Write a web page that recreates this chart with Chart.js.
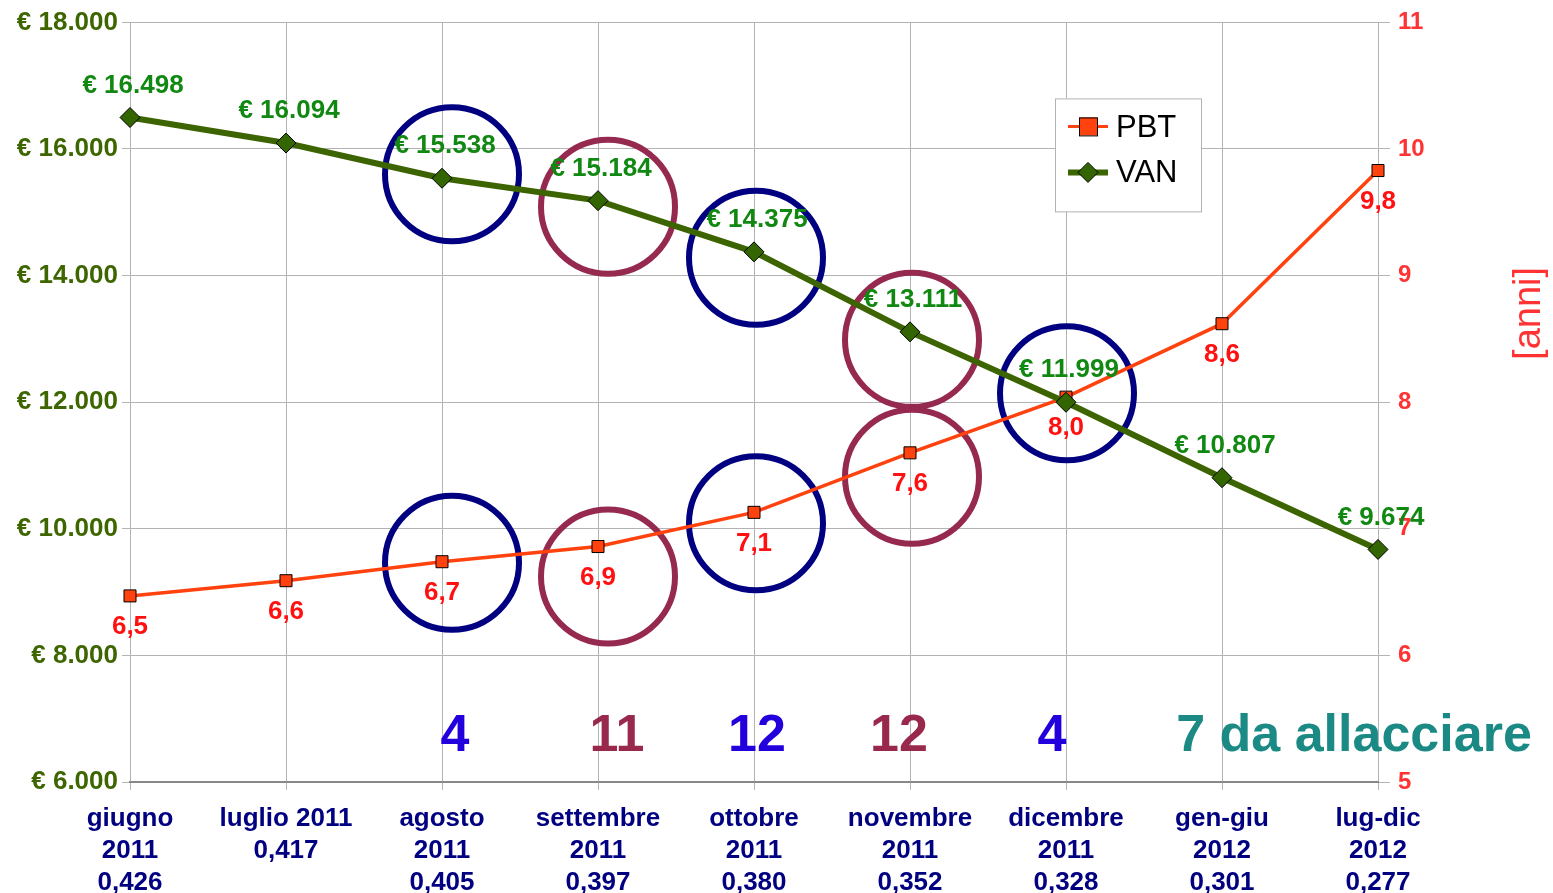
<!DOCTYPE html>
<html>
<head>
<meta charset="utf-8">
<script src="https://cdn.jsdelivr.net/npm/chart.js@4.4.1/dist/chart.umd.min.js"></script>
<style>
  html, body { margin: 0; padding: 0; background: #fff; }
  #wrap { width: 1553px; height: 893px; }
</style>
</head>
<body>
<div id="wrap"><canvas id="grafico"></canvas></div>
<script>
// periodi sull'asse x (una riga per elemento)
var periodi = [
  ["giugno", "2011", "0,426"],
  ["luglio 2011", "0,417"],
  ["agosto", "2011", "0,405"],
  ["settembre", "2011", "0,397"],
  ["ottobre", "2011", "0,380"],
  ["novembre", "2011", "0,352"],
  ["dicembre", "2011", "0,328"],
  ["gen-giu", "2012", "0,301"],
  ["lug-dic", "2012", "0,277"]
];

// PBT in anni (asse destro)
var pbtValori = [6.47, 6.59, 6.74, 6.86, 7.13, 7.6, 8.04, 8.62, 9.83];

// VAN in euro (asse sinistro)
var vanValori = [16498, 16094, 15538, 15184, 14375, 13111, 11999, 10807, 9674];

// allacciamenti per periodo
var allacciamenti = [
  { idx: 2, testo: "4" },
  { idx: 3, testo: "11" },
  { idx: 4, testo: "12" },
  { idx: 5, testo: "12" },
  { idx: 6, testo: "4" },
  { idx: 8, testo: "7 da allacciare" }
];

var FONT = "'Liberation Sans', Arial, sans-serif";

function migliaia(v) {
  return String(v).replace(/\B(?=(\d{3})+(?!\d))/g, ".");
}

// stile delle scritte grandi in basso (stesso ordine di allacciamenti)
var stileAllacci = [
  { colore: "#2200dd", dx: 13 },
  { colore: "#99284d", dx: 19 },
  { colore: "#2200dd", dx: 3 },
  { colore: "#99284d", dx: -11 },
  { colore: "#2200dd", dx: -14 },
  { colore: "#1b8a85", dx: -24 }
];

// cerchi attorno ai punti: serie, indice, colore, spostamento
var cerchi = [
  { serie: 1, idx: 2, colore: "#000080", dx: 10, dy: -4 },
  { serie: 1, idx: 3, colore: "#96294f", dx: 10, dy: 6 },
  { serie: 1, idx: 4, colore: "#000080", dx: 2, dy: 6 },
  { serie: 1, idx: 5, colore: "#96294f", dx: 2, dy: 8 },
  { serie: 1, idx: 6, colore: "#000080", dx: 1, dy: -9 },
  { serie: 0, idx: 2, colore: "#000080", dx: 10, dy: 1 },
  { serie: 0, idx: 3, colore: "#96294f", dx: 10, dy: 30 },
  { serie: 0, idx: 4, colore: "#000080", dx: 2, dy: 11 },
  { serie: 0, idx: 5, colore: "#96294f", dx: 2, dy: 24 }
];

var decorazioni = {
  id: "decorazioni",
  beforeDatasetsDraw: function (chart) {
    var ctx = chart.ctx;
    ctx.save();
    ctx.lineWidth = 6;
    cerchi.forEach(function (c) {
      var p = chart.getDatasetMeta(c.serie).data[c.idx];
      ctx.strokeStyle = c.colore;
      ctx.beginPath();
      ctx.arc(p.x + c.dx, p.y + c.dy, 67, 0, Math.PI * 2);
      ctx.stroke();
    });
    ctx.restore();
  },
  afterDatasetsDraw: function (chart) {
    var ctx = chart.ctx;
    var area = chart.chartArea;
    var xScale = chart.scales.x;
    ctx.save();
    ctx.textAlign = "center";
    ctx.textBaseline = "middle";

    // etichette VAN
    ctx.font = "bold 26px " + FONT;
    ctx.fillStyle = "#118811";
    chart.getDatasetMeta(1).data.forEach(function (p, i) {
      ctx.fillText("€ " + migliaia(vanValori[i]), p.x + 3, p.y - 32);
    });

    // etichette PBT
    ctx.fillStyle = "#ff1111";
    chart.getDatasetMeta(0).data.forEach(function (p, i) {
      ctx.fillText(pbtValori[i].toFixed(1).replace(".", ","), p.x, p.y + 31);
    });

    // numeri allacciamenti
    ctx.font = "bold 52px " + FONT;
    ctx.textBaseline = "alphabetic";
    allacciamenti.forEach(function (a, i) {
      var s = stileAllacci[i];
      ctx.fillStyle = s.colore;
      ctx.fillText(a.testo, xScale.getPixelForValue(a.idx) + s.dx, area.bottom - 31);
    });

    // legenda
    var lx = area.left + 925, ly = area.top + 76;
    ctx.strokeStyle = "#b3b3b3";
    ctx.lineWidth = 1;
    ctx.fillStyle = "#fff";
    ctx.fillRect(lx, ly, 146, 113);
    ctx.strokeRect(lx + 0.5, ly + 0.5, 146, 113);
    ctx.textAlign = "left";
    ctx.textBaseline = "middle";
    ctx.font = "31px " + FONT;

    ctx.strokeStyle = "#ff420e";
    ctx.lineWidth = 3;
    ctx.beginPath();
    ctx.moveTo(lx + 13, ly + 28);
    ctx.lineTo(lx + 53, ly + 28);
    ctx.stroke();
    ctx.fillStyle = "#ff420e";
    ctx.fillRect(lx + 24, ly + 19, 18, 18);
    ctx.strokeStyle = "#000";
    ctx.lineWidth = 1;
    ctx.strokeRect(lx + 24.5, ly + 19.5, 18, 18);
    ctx.fillStyle = "#000";
    ctx.fillText("PBT", lx + 61, ly + 30);

    ctx.strokeStyle = "#3c6400";
    ctx.lineWidth = 6;
    ctx.beginPath();
    ctx.moveTo(lx + 13, ly + 74);
    ctx.lineTo(lx + 53, ly + 74);
    ctx.stroke();
    ctx.fillStyle = "#336600";
    ctx.strokeStyle = "#000";
    ctx.lineWidth = 1;
    ctx.beginPath();
    ctx.moveTo(lx + 33, ly + 64);
    ctx.lineTo(lx + 43, ly + 74);
    ctx.lineTo(lx + 33, ly + 84);
    ctx.lineTo(lx + 23, ly + 74);
    ctx.closePath();
    ctx.fill();
    ctx.stroke();
    ctx.fillStyle = "#000";
    ctx.fillText("VAN", lx + 61, ly + 75);

    // titolo asse destro
    ctx.translate(area.right + 152, area.top + 291);
    ctx.rotate(-Math.PI / 2);
    ctx.textAlign = "center";
    ctx.font = "38px " + FONT;
    ctx.fillStyle = "#ff3333";
    ctx.fillText("[anni]", 0, 0);
    ctx.restore();
  }
};

var ctx = document.getElementById("grafico");

new Chart(ctx, {
  type: "line",
  data: {
    labels: periodi,
    datasets: [
      {
        label: "PBT",
        data: pbtValori,
        yAxisID: "y1",
        order: 1,
        borderColor: "#ff420e",
        borderWidth: 3.5,
        backgroundColor: "#ff420e",
        pointStyle: "rect",
        pointRadius: 8.5,
        pointBorderColor: "#000",
        pointBorderWidth: 1,
        tension: 0
      },
      {
        label: "VAN",
        data: vanValori,
        yAxisID: "y",
        order: 0,
        borderColor: "#3c6400",
        borderWidth: 6,
        backgroundColor: "#336600",
        pointStyle: "rectRot",
        pointRadius: 10,
        pointBorderColor: "#000",
        pointBorderWidth: 1,
        tension: 0
      }
    ]
  },
  options: {
    responsive: true,
    maintainAspectRatio: false,
    animation: false,
    layout: { padding: { top: 22 } },
    plugins: {
      legend: { display: false },
      tooltip: { enabled: false }
    },
    scales: {
      x: {
        offset: false,
        grid: { color: "#b3b3b3", tickLength: 8 },
        border: { color: "#888", width: 2 },
        ticks: {
          autoSkip: false,
          maxRotation: 0,
          padding: 13,
          color: "#000080",
          font: { family: FONT, size: 26, weight: "bold", lineHeight: 1.23 }
        },
        afterFit: function (scale) {
          scale.height = 111;
        }
      },
      y: {
        position: "left",
        min: 6000,
        max: 18000,
        grid: { color: "#b3b3b3", tickLength: 8 },
        border: { display: false },
        ticks: {
          stepSize: 2000,
          padding: 4,
          color: "#3d6600",
          font: { family: FONT, size: 26, weight: "bold" },
          callback: function (v) {
            return "€ " + migliaia(v);
          }
        },
        afterFit: function (scale) {
          scale.width = 130;
        }
      },
      y1: {
        position: "right",
        min: 5,
        max: 11,
        grid: { drawOnChartArea: false, color: "#b3b3b3", tickLength: 12 },
        border: { display: false },
        ticks: {
          stepSize: 1,
          padding: 8,
          color: "#ff3333",
          font: { family: FONT, size: 24, weight: "bold" }
        },
        afterFit: function (scale) {
          scale.width = 175;
        }
      }
    }
  },
  plugins: [decorazioni]
});
</script>
</body>
</html>
